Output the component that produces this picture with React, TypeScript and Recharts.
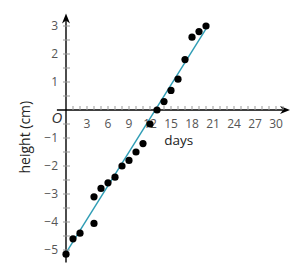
import React from "react";
import {
  ComposedChart,
  XAxis,
  YAxis,
  Scatter,
  Line,
  ReferenceLine,
  ReferenceDot,
} from "recharts";

const days = [0, 1, 2, 4, 4, 5, 6, 7, 8, 9, 10, 11, 12, 13, 14, 15, 16, 17, 18, 19, 20];
const heights = [-5.15, -4.6, -4.4, -4.05, -3.1, -2.8, -2.6, -2.4, -2.0, -1.8, -1.5, -1.2, -0.5, 0, 0.3, 0.7, 1.1, 1.8, 2.6, 2.8, 3.0];

// fitted line ends
const fitDays = [0, 20.4];
const fitHeights = [-5.1, 3.06];

const xMinorTicks = [1, 2, 3, 4, 5, 6, 7, 8, 9, 10, 11, 12, 13, 14, 15, 16, 17, 18, 19, 20, 21, 22, 23, 24, 25, 26, 27, 28, 29, 30, 31];
const xTickLabels = [3, 6, 9, 12, 15, 18, 21, 24, 27, 30];
const yMinorTicks = [-5, -4.5, -4, -3.5, -3, -2.5, -2, -1.5, -1, -0.5, 0.5, 1, 1.5, 2, 2.5, 3];
const yTickLabels = [-5, -4, -3, -2, -1, 1, 2, 3];

const points = days.map((d, i) => ({ x: d, y: heights[i] }));
const fit = fitDays.map((d, i) => ({ x: d, y: fitHeights[i] }));

const FONT = "'Open Sans', sans-serif";

const fmt = (v: number) => (v < 0 ? "\u2212" + Math.abs(v) : String(v));

const Dot = (p: any) => <circle cx={p.cx} cy={p.cy} r={3.6} fill="#000" />;

const XAxisArrow = (p: any) => (
  <g>
    <line x1={p.x1} y1={p.y1} x2={p.x2 - 4} y2={p.y2} stroke="#000" strokeWidth={1.4} />
    <polygon
      points={`${p.x2},${p.y2} ${p.x2 - 10},${p.y2 - 4} ${p.x2 - 7},${p.y2} ${p.x2 - 10},${p.y2 + 4}`}
      fill="#000"
    />
  </g>
);

const YAxisArrow = (p: any) => (
  <g>
    <line x1={p.x1} y1={p.y1} x2={p.x2} y2={p.y2 + 4} stroke="#000" strokeWidth={1.4} />
    <polygon
      points={`${p.x2},${p.y2} ${p.x2 - 4},${p.y2 + 10} ${p.x2},${p.y2 + 7} ${p.x2 + 4},${p.y2 + 10}`}
      fill="#000"
    />
  </g>
);

const xTick = (label: boolean, v: number) => (p: any) => (
  <g>
    <line x1={p.cx} y1={p.cy - 4} x2={p.cx} y2={p.cy} stroke="#999" strokeWidth={1} />
    {label && (
      <text x={p.cx} y={p.cy + 18} textAnchor="middle" fontSize={12} fill="#555" fontFamily={FONT}>
        {fmt(v)}
      </text>
    )}
  </g>
);

const yTick = (label: boolean, v: number) => (p: any) => (
  <g>
    <line x1={p.cx - 3} y1={p.cy} x2={p.cx + 4} y2={p.cy} stroke="#999" strokeWidth={1} />
    {label && (
      <text x={p.cx - 8} y={p.cy + 4} textAnchor="end" fontSize={12} fill="#555" fontFamily={FONT}>
        {fmt(v)}
      </text>
    )}
  </g>
);

const TextAt = (txt: string, opts: any) => (p: any) => (
  <text
    x={p.cx}
    y={p.cy}
    textAnchor="middle"
    fontFamily={FONT}
    fill="#222"
    {...opts}
    transform={opts.rotate ? `rotate(-90 ${p.cx} ${p.cy})` : undefined}
  >
    {txt}
  </text>
);

export default function App() {
  return (
    <div style={{ position: "absolute", left: 0, top: 0, width: 298, height: 269, background: "#fff" }}>
      <ComposedChart
        width={298}
        height={269}
        margin={{ top: 12, right: 8, bottom: 5, left: 10 }}
      >
        <XAxis type="number" dataKey="x" domain={[-8, 32]} hide allowDataOverflow />
        <YAxis type="number" dataKey="y" domain={[-5.5, 3.5]} hide allowDataOverflow />

        {xMinorTicks.map((t) => (
          <ReferenceDot key={"xt" + t} x={t} y={0} r={0} shape={xTick(xTickLabels.includes(t), t)} />
        ))}
        {yMinorTicks.map((t) => (
          <ReferenceDot key={"yt" + t} x={0} y={t} r={0} shape={yTick(yTickLabels.includes(t), t)} />
        ))}

        <ReferenceLine
          segment={[{ x: -1.3, y: 0 }, { x: 32, y: 0 }]}
          ifOverflow="visible"
          shape={XAxisArrow}
        />
        <ReferenceLine
          segment={[{ x: 0, y: -5.45 }, { x: 0, y: 3.45 }]}
          ifOverflow="visible"
          shape={YAxisArrow}
        />

        <ReferenceDot x={-1.3} y={-0.48} r={0} shape={TextAt("O", { fontSize: 15, fontStyle: "italic", fill: "#333" })} />
        <ReferenceDot x={16.1} y={-1.25} r={0} shape={TextAt("days", { fontSize: 13.5 })} />
        <ReferenceDot x={-5.85} y={-0.97} r={0} shape={TextAt("height (cm)", { fontSize: 14, rotate: true, dy: 5 })} />

        <Line
          data={fit}
          dataKey="y"
          stroke="#2f9db5"
          strokeWidth={1.5}
          dot={false}
          activeDot={false}
          isAnimationActive={false}
        />
        <Scatter data={points} dataKey="y" shape={Dot} isAnimationActive={false} />
      </ComposedChart>
    </div>
  );
}
